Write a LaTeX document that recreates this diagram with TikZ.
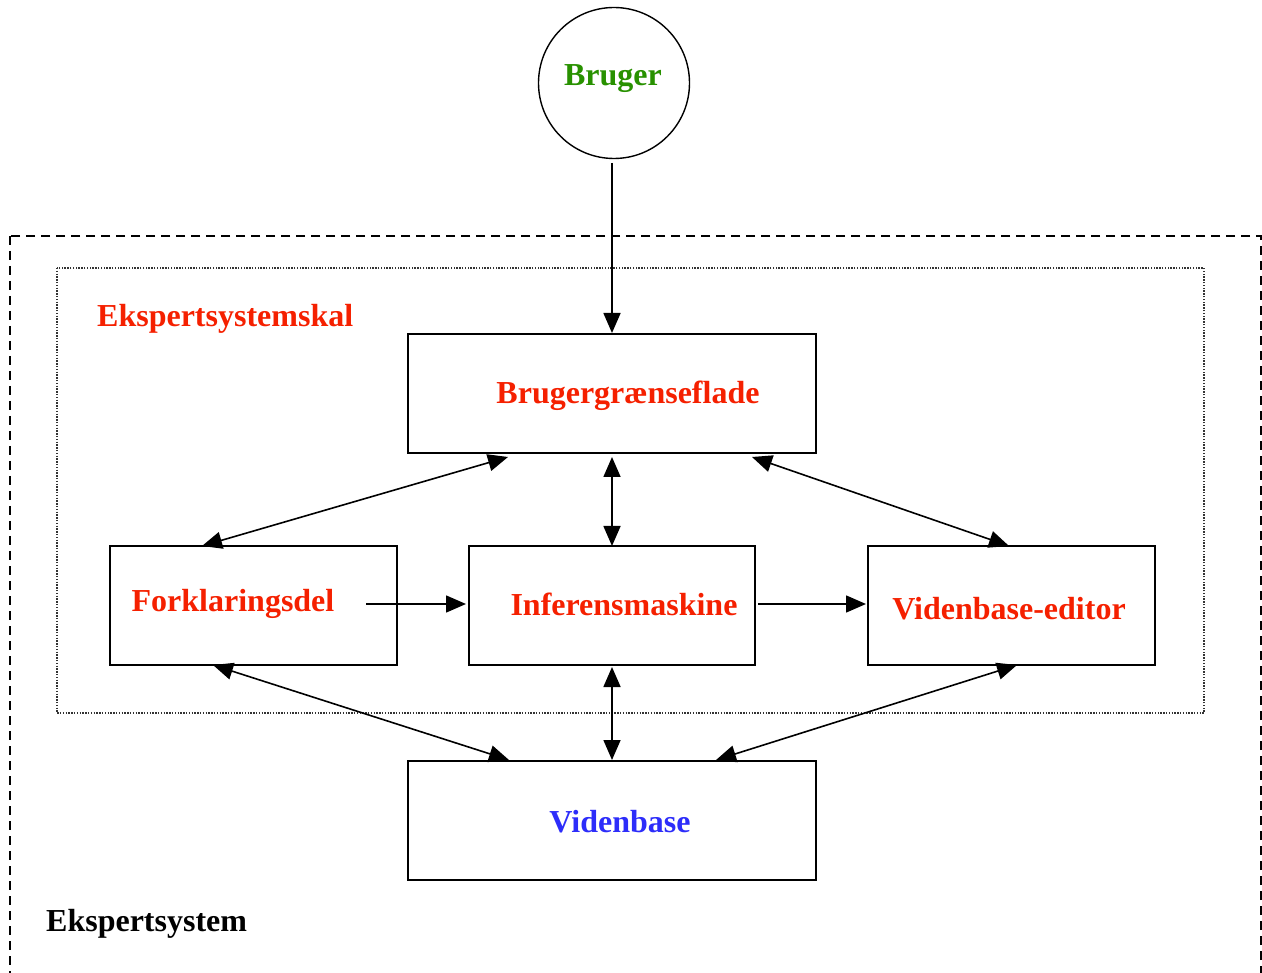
\documentclass[tikz,border=0pt]{standalone}
\usepackage{fontspec}
\setmainfont{Liberation Serif}
\usetikzlibrary{arrows.meta}
\definecolor{tred}{RGB}{245,32,0}
\definecolor{tgreen}{RGB}{40,145,0}
\definecolor{tblue}{RGB}{45,45,250}
\tikzset{
  box/.style={draw, line width=1.6pt, minimum width=#1, minimum height=119pt, inner sep=0pt},
  lbl/.style={font=\fontsize{32}{38}\selectfont\bfseries, inner sep=0pt, anchor=center},
  conn/.style={line width=1.6pt, -{Triangle[length=20pt,width=17pt]}},
  biconn/.style={line width=1.6pt, {Triangle[length=20pt,width=17pt]}-{Triangle[length=20pt,width=17pt]}},
}
\begin{document}
\begin{tikzpicture}[x=1pt,y=-1pt]
\useasboundingbox (0,0) rectangle (1262,973);
\clip (0,0) rectangle (1262,973);
% outer dashed frame
\draw[line width=1.6pt, dash pattern=on 9pt off 6pt] (10,236) rectangle (1261,1000);
% inner dotted frame
\draw[line width=1.4pt, black!80, dash pattern=on 1.4pt off 1.4pt] (57,268) rectangle (1204,713);
% user
\node[draw, circle, line width=1.4pt, minimum size=151pt, inner sep=0pt] (bruger) at (614,83) {};
\node[lbl, text=tgreen] (brugert) at (613,79) {Bruger};
% boxes
\node[box=408pt] (bg) at (612,393.5) {};
\node[lbl, text=tred] (bgt) at (628,396) {Brugergrænseflade};
\node[box=287pt] (fd) at (253.5,605.5) {};
\node[lbl, text=tred] (fdt) at (233,604) {Forklaringsdel};
\node[box=286pt] (im) at (612,605.5) {};
\node[lbl, text=tred] (imt) at (624,604) {Inferensmaskine};
\node[box=287pt] (ve) at (1011.5,605.5) {};
\node[lbl, text=tred] (vet) at (1009,609) {Videnbase-editor};
\node[box=408pt] (vb) at (612,820.5) {};
\node[lbl, text=tblue] (vbt) at (620,822) {Videnbase};
\node[lbl, anchor=west, text=tred] (skal) at (97,319) {Ekspertsystemskal};
\node[lbl, anchor=west] (sys) at (46,924) {Ekspertsystem};
% connector end points
\coordinate (b1) at (612,163);
\coordinate (b2) at (612,333);
\coordinate (g1) at (508,457);
\coordinate (f1) at (202,546);
\coordinate (g2) at (612,457);
\coordinate (i1) at (612,546);
\coordinate (g3) at (752,457);
\coordinate (e1) at (1009,546);
\coordinate (f2) at (366,604);
\coordinate (i2) at (466,604);
\coordinate (i3) at (758,604);
\coordinate (e2) at (866,604);
\coordinate (f3) at (213,665);
\coordinate (v1) at (509,760);
\coordinate (i4) at (612,667);
\coordinate (v2) at (612,760);
\coordinate (e3) at (1017,665);
\coordinate (v3) at (716,760);
% connectors
\draw[conn] (b1) -- (b2);
\draw[biconn] (g1) -- (f1);
\draw[biconn] (g2) -- (i1);
\draw[biconn] (g3) -- (e1);
\draw[conn] (f2) -- (i2);
\draw[conn] (i3) -- (e2);
\draw[biconn] (f3) -- (v1);
\draw[biconn] (i4) -- (v2);
\draw[biconn] (e3) -- (v3);
\end{tikzpicture}
\end{document}
